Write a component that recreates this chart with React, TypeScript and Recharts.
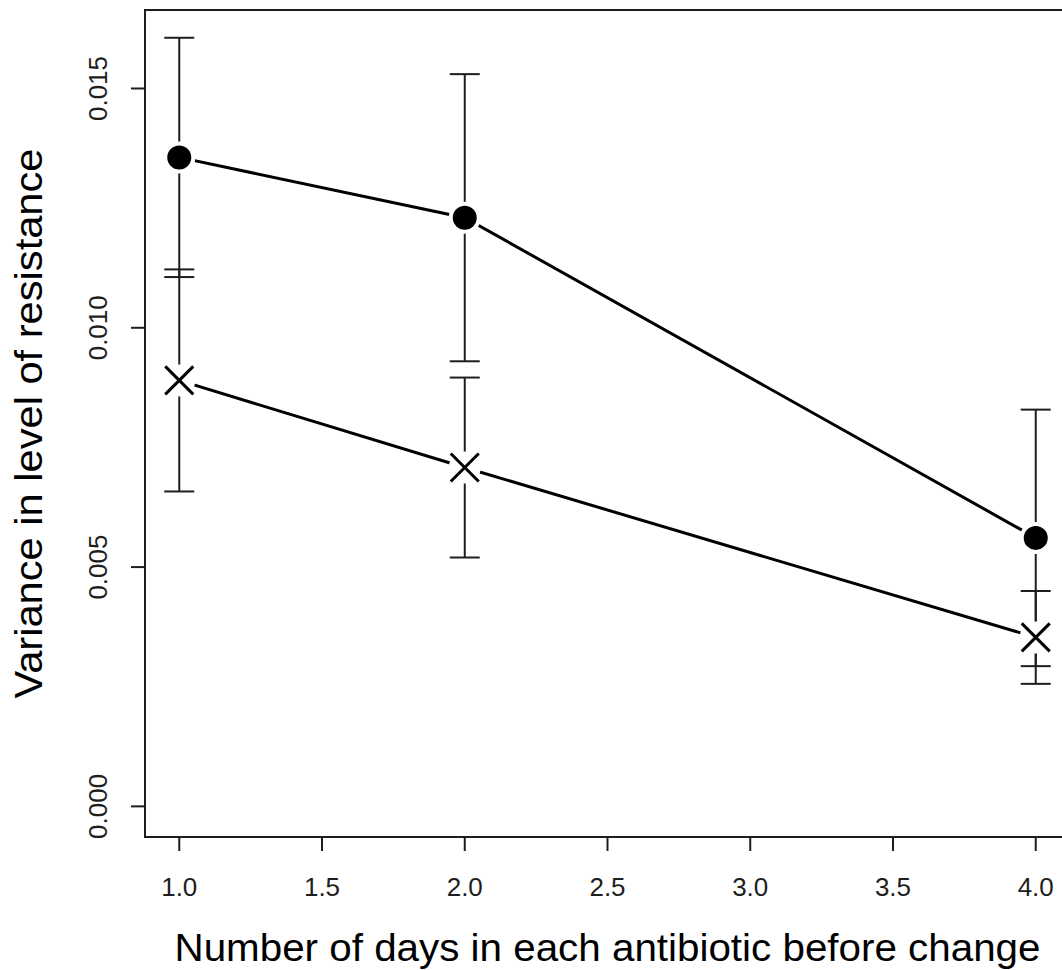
import React from "react";
import { LineChart, Line, XAxis, YAxis, ErrorBar, ReferenceArea, Label } from "recharts";

const DAYS = [1, 2, 4];
const CIRCLE_MEAN = [0.01356, 0.0123, 0.00561];
const CIRCLE_ERR = [0.0025, 0.003, 0.00268];
const CROSS_MEAN = [0.0089, 0.00708, 0.00353];
const CROSS_ERR = [0.00232, 0.00188, 0.00097];

const X_TICKS = [1, 1.5, 2, 2.5, 3, 3.5, 4];
const Y_TICKS = [0, 0.005, 0.01, 0.015];
const X_DOMAIN: [number, number] = [0.88, 4.12];
const Y_DOMAIN: [number, number] = [-0.00064, 0.01664];

const FONT = "'Liberation Sans', Arial, sans-serif";
const INK = "#1e1e1e";

const rows = DAYS.map((day, i) => ({
  day,
  circle: CIRCLE_MEAN[i],
  circleErr: CIRCLE_ERR[i],
  cross: CROSS_MEAN[i],
  crossErr: CROSS_ERR[i],
}));

// white disc under each point so the connecting line stops short of the symbol
const HaloDot = (props: any) => {
  const { cx, cy } = props;
  if (cx == null || cy == null) return null;
  return <circle cx={cx} cy={cy} r={16} fill="#fff" stroke="none" />;
};

const CircleDot = (props: any) => {
  const { cx, cy } = props;
  if (cx == null || cy == null) return null;
  return <circle cx={cx} cy={cy} r={12} fill="#000" stroke="none" />;
};

const CrossDot = (props: any) => {
  const { cx, cy } = props;
  if (cx == null || cy == null) return null;
  const s = 14;
  return (
    <g stroke="#000" strokeWidth={3}>
      <line x1={cx - s} y1={cy - s} x2={cx + s} y2={cy + s} />
      <line x1={cx - s} y1={cy + s} x2={cx + s} y2={cy - s} />
    </g>
  );
};

const XTick = (props: any) => {
  const { x, y, payload } = props;
  return (
    <text x={x} y={y + 43} textAnchor="middle" fontSize={26} fontFamily={FONT} fill={INK}>
      {Number(payload.value).toFixed(1)}
    </text>
  );
};

const YTick = (props: any) => {
  const { x, y, payload } = props;
  const bx = x - 22;
  return (
    <text
      x={bx}
      y={y}
      transform={`rotate(-90 ${bx} ${y})`}
      textAnchor="middle"
      fontSize={26}
      fontFamily={FONT}
      fill={INK}
    >
      {Number(payload.value).toFixed(3)}
    </text>
  );
};

const XTitle = (props: any) => {
  const { x, y, width } = props.viewBox;
  return (
    <text
      x={x + width / 2}
      y={y + 124}
      textAnchor="middle"
      fontSize={38}
      fontFamily={FONT}
      fill="#000"
      textLength={866}
      lengthAdjust="spacingAndGlyphs"
    >
      Number of days in each antibiotic before change
    </text>
  );
};

const YTitle = (props: any) => {
  const { y, height } = props.viewBox;
  const bx = 42;
  const cy = y + height / 2;
  return (
    <text
      x={bx}
      y={cy}
      transform={`rotate(-90 ${bx} ${cy})`}
      textAnchor="middle"
      fontSize={38}
      fontFamily={FONT}
      fill="#000"
      textLength={550}
      lengthAdjust="spacingAndGlyphs"
    >
      Variance in level of resistance
    </text>
  );
};

export default function App() {
  return (
    <div
      style={{
        position: "absolute",
        left: 0,
        top: 0,
        width: 1062,
        height: 970,
        overflow: "hidden",
        background: "#fff",
      }}
    >
      <LineChart width={1075} height={970} data={rows} margin={{ top: 10, right: 5, bottom: 0, left: 0 }}>
        <XAxis
          dataKey="day"
          type="number"
          domain={X_DOMAIN}
          ticks={X_TICKS}
          allowDataOverflow
          height={133}
          axisLine={false}
          tickSize={14}
          tickLine={{ stroke: INK, strokeWidth: 2 }}
          tick={XTick}
          interval={0}
        >
          <Label content={XTitle} />
        </XAxis>
        <YAxis
          type="number"
          domain={Y_DOMAIN}
          ticks={Y_TICKS}
          allowDataOverflow
          width={145}
          axisLine={false}
          tickSize={14}
          tickLine={{ stroke: INK, strokeWidth: 2 }}
          tick={YTick}
          interval={0}
        >
          <Label content={YTitle} />
        </YAxis>

        <ReferenceArea
          x1={X_DOMAIN[0]}
          x2={X_DOMAIN[1]}
          y1={Y_DOMAIN[0]}
          y2={Y_DOMAIN[1]}
          fill="none"
          stroke={INK}
          strokeWidth={2}
          ifOverflow="visible"
        />

        {/* connecting lines with gaps at the points */}
        <Line
          dataKey="circle"
          stroke="#000"
          strokeWidth={3}
          dot={HaloDot}
          activeDot={false}
          isAnimationActive={false}
        />
        <Line
          dataKey="cross"
          stroke="#000"
          strokeWidth={3}
          dot={HaloDot}
          activeDot={false}
          isAnimationActive={false}
        />

        {/* error bars and symbols on top */}
        <Line
          dataKey="circle"
          stroke="none"
          dot={CircleDot}
          activeDot={false}
          isAnimationActive={false}
        >
          <ErrorBar dataKey="circleErr" direction="y" width={15} stroke={INK} strokeWidth={2} isAnimationActive={false} />
        </Line>
        <Line
          dataKey="cross"
          stroke="none"
          dot={CrossDot}
          activeDot={false}
          isAnimationActive={false}
        >
          <ErrorBar dataKey="crossErr" direction="y" width={15} stroke={INK} strokeWidth={2} isAnimationActive={false} />
        </Line>
      </LineChart>
    </div>
  );
}
